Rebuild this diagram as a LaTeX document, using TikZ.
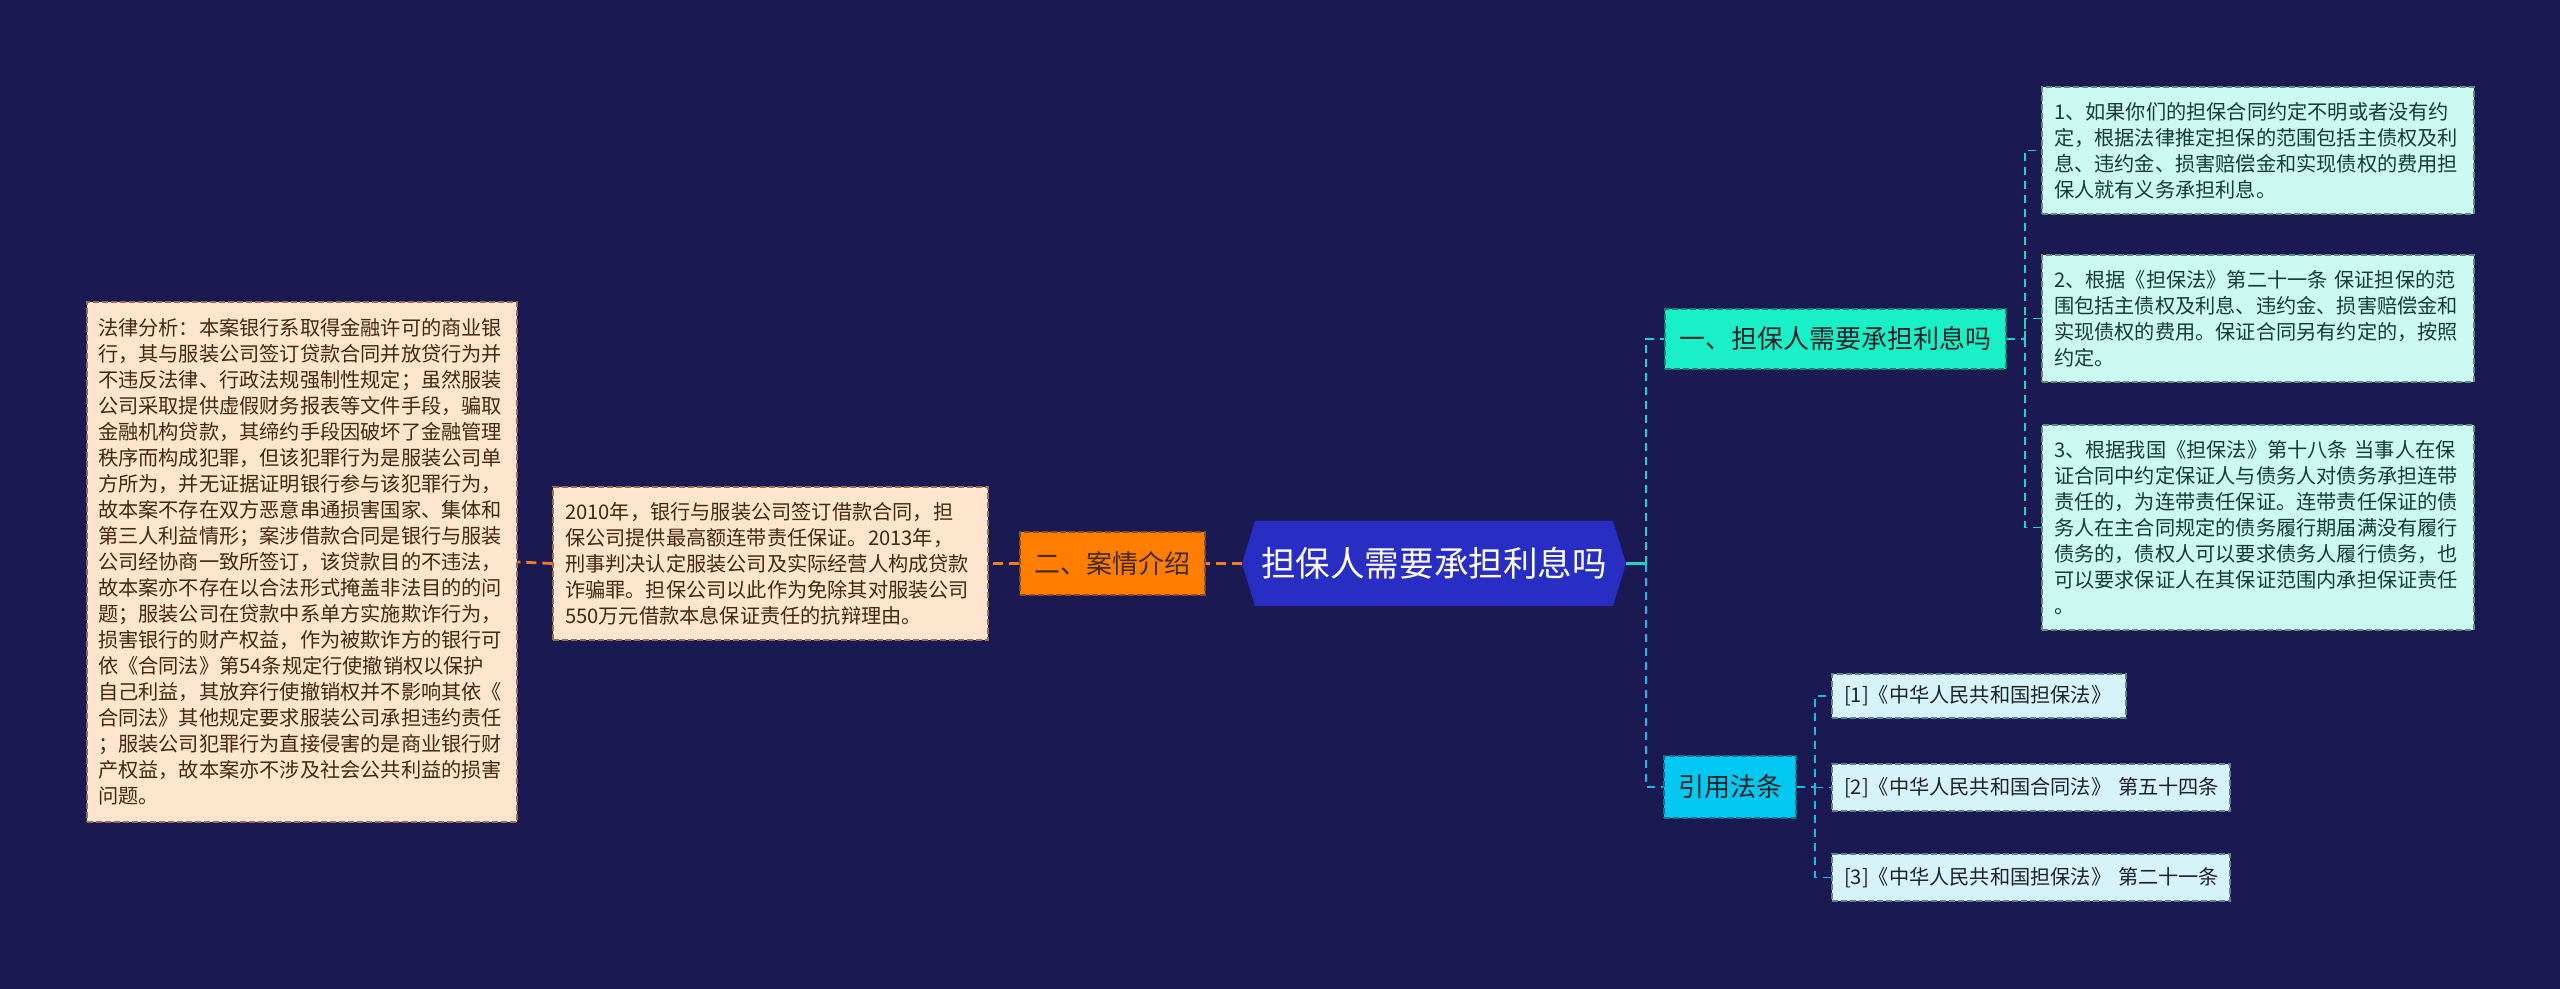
\documentclass[tikz,border=0pt]{standalone}
\usepackage{fontspec}
\newfontfamily\cjk{Noto Sans CJK SC}
\definecolor{bg}{RGB}{26,25,82}
\definecolor{peach}{RGB}{253,230,205}
\definecolor{peachline}{RGB}{150,110,80}
\definecolor{peachtext}{RGB}{70,40,15}
\definecolor{aqua}{RGB}{205,250,240}
\definecolor{aqualine}{RGB}{90,140,130}
\definecolor{aquatext}{RGB}{20,60,50}
\definecolor{citefill}{RGB}{215,243,250}
\definecolor{citeline}{RGB}{90,130,150}
\definecolor{turq}{RGB}{25,240,200}
\definecolor{turqline}{RGB}{30,215,195}
\definecolor{cyannode}{RGB}{0,200,240}
\definecolor{cyanline}{RGB}{20,190,235}
\definecolor{orangenode}{RGB}{255,125,0}
\definecolor{orangeline}{RGB}{240,125,30}
\definecolor{hexfill}{RGB}{40,45,195}
\definecolor{darktext}{RGB}{30,35,40}
\begin{document}
\begin{tikzpicture}[x=0.5pt,y=-0.5pt,
  basebox/.style={line width=0.6pt, dash pattern=on 3pt off 1.5pt, align=left,
    inner ysep=0pt, anchor=center, font=\cjk\fontsize{10.1pt}{13pt}\selectfont},
  peachbox/.style={basebox, draw=peachline, fill=peach, text=peachtext},
  aquabox/.style={basebox, draw=aqualine, fill=aqua, text=aquatext},
  citebox/.style={basebox, draw=citeline, fill=citefill, text=darktext},
  branch/.style={line width=0.6pt, dash pattern=on 3pt off 1.5pt, align=center,
    inner sep=0pt, anchor=center, font=\cjk\fontsize{13pt}{15pt}\selectfont},
  orangeconn/.style={draw=orangeline, line width=1.4pt, dash pattern=on 5pt off 3pt},
  turqconn/.style={draw=turqline, line width=1.2pt, dash pattern=on 4pt off 3pt},
  cyanconn/.style={draw=cyanline, line width=1.2pt, dash pattern=on 4pt off 3pt}
]
\path[use as bounding box, fill=bg] (0,0) rectangle (2560,989);

% central hexagon
\fill[hexfill] (1255,521) -- (1613,521) -- (1626,563.5) -- (1613,606) -- (1255,606) -- (1242,563.5) -- cycle;
\node[inner sep=0pt, minimum width=192pt, minimum height=42.5pt, text=white,
  font=\cjk\fontsize{17.3pt}{20pt}\selectfont] (root) at (1434,563.5) {担保人需要承担利息吗};

% left side
\node[branch, draw=orangeline!60!black, fill=orangenode, text=peachtext,
  minimum width=92.5pt, minimum height=31.5pt] (case) at (1112.5,563.5) {二、案情介绍};

\node[peachbox, text width=205.5pt, inner xsep=6pt, minimum height=76.5pt] (mid) at (770.5,563.5)
{2010年，银行与服装公司签订借款合同，担\\
保公司提供最高额连带责任保证。2013年，\\
刑事判决认定服装公司及实际经营人构成贷款\\
诈骗罪。担保公司以此作为免除其对服装公司\\
550万元借款本息保证责任的抗辩理由。};

\node[peachbox, text width=204pt, inner xsep=5.5pt, minimum height=260pt] (left) at (302,562)
{法律分析：本案银行系取得金融许可的商业银\\
行，其与服装公司签订贷款合同并放贷行为并\\
不违反法律、行政法规强制性规定；虽然服装\\
公司采取提供虚假财务报表等文件手段，骗取\\
金融机构贷款，其缔约手段因破坏了金融管理\\
秩序而构成犯罪，但该犯罪行为是服装公司单\\
方所为，并无证据证明银行参与该犯罪行为，\\
故本案不存在双方恶意串通损害国家、集体和\\
第三人利益情形；案涉借款合同是银行与服装\\
公司经协商一致所签订，该贷款目的不违法，\\
故本案亦不存在以合法形式掩盖非法目的的问\\
题；服装公司在贷款中系单方实施欺诈行为，\\
损害银行的财产权益，作为被欺诈方的银行可\\
依《合同法》第54条规定行使撤销权以保护\\
自己利益，其放弃行使撤销权并不影响其依《\\
合同法》其他规定要求服装公司承担违约责任\\
；服装公司犯罪行为直接侵害的是商业银行财\\
产权益，故本案亦不涉及社会公共利益的损害\\
问题。};

% right side branches
\node[branch, draw=turqline!60!black, fill=turq, text=darktext,
  minimum width=170.5pt, minimum height=30pt] (n1) at (1835.5,339) {一、担保人需要承担利息吗};
\node[branch, draw=cyanline!60!black, fill=cyannode, text=darktext,
  minimum width=66pt, minimum height=31pt] (n2) at (1730,787) {引用法条};

\node[aquabox, text width=204pt, inner xsep=6pt, minimum height=63.5pt] (b1) at (2258,150.5)
{1、如果你们的担保合同约定不明或者没有约\\
定，根据法律推定担保的范围包括主债权及利\\
息、违约金、损害赔偿金和实现债权的费用担\\
保人就有义务承担利息。};
\node[aquabox, text width=204pt, inner xsep=6pt, minimum height=63.5pt] (b2) at (2258,318.5)
{2、根据《担保法》第二十一条~保证担保的范\\
围包括主债权及利息、违约金、损害赔偿金和\\
实现债权的费用。保证合同另有约定的，按照\\
约定。};
\node[aquabox, text width=204pt, inner xsep=6pt, minimum height=102.5pt] (b3) at (2258,527.5)
{3、根据我国《担保法》第十八条~当事人在保\\
证合同中约定保证人与债务人对债务承担连带\\
责任的，为连带责任保证。连带责任保证的债\\
务人在主合同规定的债务履行期届满没有履行\\
债务的，债权人可以要求债务人履行债务，也\\
可以要求保证人在其保证范围内承担保证责任\\
。};

\node[citebox, text width=135pt, inner xsep=6pt, minimum height=22pt] (c1) at (1979,696)
{[1]《中华人民共和国担保法》};
\node[citebox, text width=187pt, inner xsep=6pt, minimum height=23.5pt] (c2) at (2031,787.5)
{\mbox{[2]《中华人民共和国合同法》~第五十四条}};
\node[citebox, text width=187pt, inner xsep=6pt, minimum height=23.5pt] (c3) at (2031,877.5)
{\mbox{[3]《中华人民共和国担保法》~第二十一条}};

% connectors left
\draw[orangeconn] (root.west) -- (case.east);
\draw[orangeconn] (case.west) -- (mid.east);
\draw[orangeconn] (mid.west) -- (left.east);

% connectors right
\coordinate (trunk) at (1646,563.5);
\draw[draw=turqline, line width=1.4pt] (root.east) -- (trunk);
\draw[turqconn] (trunk) |- (n1.west);
\draw[cyanconn] (trunk) |- (n2.west);

\coordinate (t1) at (2025,339);
\draw[turqconn, line width=0.9pt] (n1.east) -- (t1) |- (b1.west);
\draw[turqconn, line width=0.9pt] (t1) |- (b2.west);
\draw[turqconn, line width=0.9pt] (t1) |- (b3.west);

\coordinate (t2) at (1815,787);
\draw[cyanconn, line width=0.9pt] (n2.east) -- (t2) |- (c1.west);
\draw[cyanconn, line width=0.9pt] (t2) |- (c2.west);
\draw[cyanconn, line width=0.9pt] (t2) |- (c3.west);
\end{tikzpicture}
\end{document}
